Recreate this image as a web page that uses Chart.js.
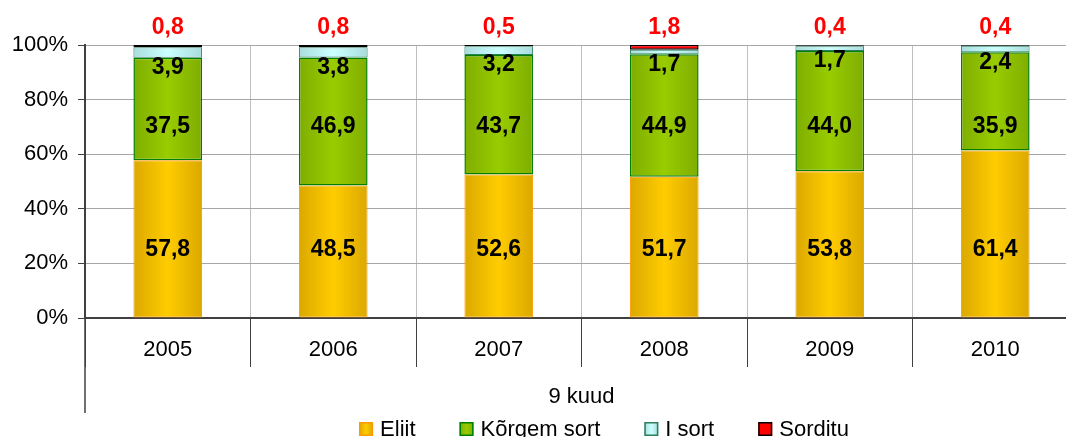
<!DOCTYPE html>
<html>
<head>
<meta charset="utf-8">
<script src="https://cdn.jsdelivr.net/npm/chart.js@4/dist/chart.umd.min.js"></script>
<style>
html,body{margin:0;padding:0;overflow:hidden;background:#fff;}
#wrap{width:1090px;height:437px;}
</style>
</head>
<body>
<div id="wrap"><canvas id="c" width="1090" height="437"></canvas></div>
<script>
const categories = ['2005', '2006', '2007', '2008', '2009', '2010'];
const axisTitle = '9 kuud';
const seriesNames = ['Eliit', 'Kõrgem sort', 'I sort', 'Sorditu'];
const eliit = [57.8, 48.5, 52.6, 51.7, 53.8, 61.4];
const korgem = [37.5, 46.9, 43.7, 44.9, 44.0, 35.9];
const iSort = [3.9, 3.8, 3.2, 1.7, 1.7, 2.4];
const sorditu = [0.8, 0.8, 0.5, 1.8, 0.4, 0.4];
const yTicks = [0, 20, 40, 60, 80, 100];

const FONT = "'Liberation Sans', Arial, sans-serif";
const TXT = 22;
const BAR_FRAC = 0.415;

function grad(edge, mid) {
  return (ctx) => {
    const chart = ctx.chart;
    const xs = chart.scales && chart.scales.x;
    if (!xs || ctx.type !== 'data' || !isFinite(xs.width) || xs.width <= 0) return mid;
    const cx = xs.getPixelForValue(ctx.dataIndex);
    const hw = xs.width / categories.length * BAR_FRAC / 2;
    const g = chart.ctx.createLinearGradient(cx - hw, 0, cx + hw, 0);
    g.addColorStop(0, edge);
    g.addColorStop(0.5, mid);
    g.addColorStop(1, edge);
    return g;
  };
}

const styles = [
  {edge: '#DBA800', mid: '#FFCC00', border: '#FF9900', bw: 1},
  {edge: '#7FAD00', mid: '#99CC00', border: '#008000', bw: 1.5},
  {edge: '#A9DDDD', mid: '#CCFFFF', border: '#2E7D5B', bw: 1},
  {edge: '#FF0000', mid: '#FF0000', border: '#000000', bw: 1.5}
];
const values = [eliit, korgem, iSort, sorditu];

const datasets = values.map((v, i) => ({
  label: seriesNames[i],
  data: v,
  backgroundColor: grad(styles[i].edge, styles[i].mid),
  borderColor: styles[i].border,
  borderWidth: styles[i].bw,
  borderSkipped: false,
  barPercentage: BAR_FRAC,
  categoryPercentage: 1
}));

const fmt = (v) => v.toFixed(1).replace('.', ',');

const labelPlugin = {
  id: 'segLabels',
  afterDatasetsDraw(chart) {
    const c = chart.ctx;
    const ys = chart.scales.y;
    c.save();
    c.textAlign = 'center';
    c.textBaseline = 'middle';
    c.font = 'bold 23px ' + FONT;
    chart.data.datasets.forEach((ds, di) => {
      const meta = chart.getDatasetMeta(di);
      meta.data.forEach((el, i) => {
        const v = ds.data[i];
        let y, color = '#000';
        if (di === 0) y = ys.getPixelForValue(25);
        else if (di === 1) y = ys.getPixelForValue(70);
        else if (di === 2) y = el.base + 10;
        else { y = chart.chartArea.top - 17; color = '#FF0000'; }
        c.fillStyle = color;
        c.fillText(fmt(v), el.x, y);
      });
    });
    c.restore();
  }
};

const axisExtPlugin = {
  id: 'axisExt',
  afterDraw(chart) {
    const c = chart.ctx;
    const a = chart.chartArea;
    c.save();
    c.strokeStyle = '#404040';
    c.lineWidth = 1.5;
    c.beginPath();
    c.moveTo(a.left, a.bottom);
    c.lineTo(a.left, 413);
    c.stroke();
    c.restore();
  }
};

const legendPlugin = {
  id: 'customLegend',
  afterDraw(chart) {
    const c = chart.ctx;
    c.save();
    c.font = TXT + 'px ' + FONT;
    c.textBaseline = 'middle';
    c.textAlign = 'left';
    const box = 14, gapText = 7, spacing = 44;
    const widths = seriesNames.map(n => box + gapText + c.measureText(n).width);
    const total = widths.reduce((s, w) => s + w, 0) + spacing * (seriesNames.length - 1);
    let x = 604 - total / 2;
    const yc = 429;
    seriesNames.forEach((n, i) => {
      const st = styles[i];
      const g = c.createLinearGradient(x, 0, x + box, 0);
      g.addColorStop(0, st.edge); g.addColorStop(0.5, st.mid); g.addColorStop(1, st.edge);
      c.fillStyle = g;
      c.fillRect(x, yc - box / 2, box, box);
      c.strokeStyle = st.border;
      c.lineWidth = 1.5;
      c.strokeRect(x + 0.75, yc - box / 2 + 0.75, box - 1.5, box - 1.5);
      c.fillStyle = '#000';
      c.fillText(n, x + box + gapText, yc + 1);
      x += widths[i] + spacing;
    });
    c.restore();
  }
};

new Chart(document.getElementById('c'), {
  type: 'bar',
  data: { labels: categories, datasets },
  options: {
    responsive: false,
    animation: false,
    layout: { padding: { top: 45, right: 12, left: 0, bottom: 0 } },
    plugins: {
      legend: { display: false },
      tooltip: { enabled: false }
    },
    scales: {
      x: {
        stacked: true,
        offset: true,
        grid: { offset: true, color: '#BFBFBF', tickColor: '#404040', tickLength: 49, lineWidth: 1 },
        border: { color: '#404040', width: 2 },
        ticks: { font: { family: FONT, size: TXT }, color: '#000', padding: -30, maxRotation: 0 },
        title: { display: true, text: axisTitle, font: { family: FONT, size: TXT }, color: '#000', padding: { top: 0, bottom: 27 } },
        afterFit: (s) => { s.height = 119; }
      },
      y: {
        stacked: true,
        min: 0,
        max: 100,
        afterBuildTicks: (s) => { s.ticks = yTicks.map(v => ({ value: v })); },
        grid: { color: '#A6A6A6', tickColor: '#404040', tickLength: 7 },
        border: { color: '#404040', width: 2 },
        ticks: { font: { family: FONT, size: TXT }, color: '#000', padding: 10, callback: (v) => v + '%' },
        afterFit: (s) => { s.width = 85; }
      }
    }
  },
  plugins: [labelPlugin, axisExtPlugin, legendPlugin]
});
</script>
</body>
</html>
